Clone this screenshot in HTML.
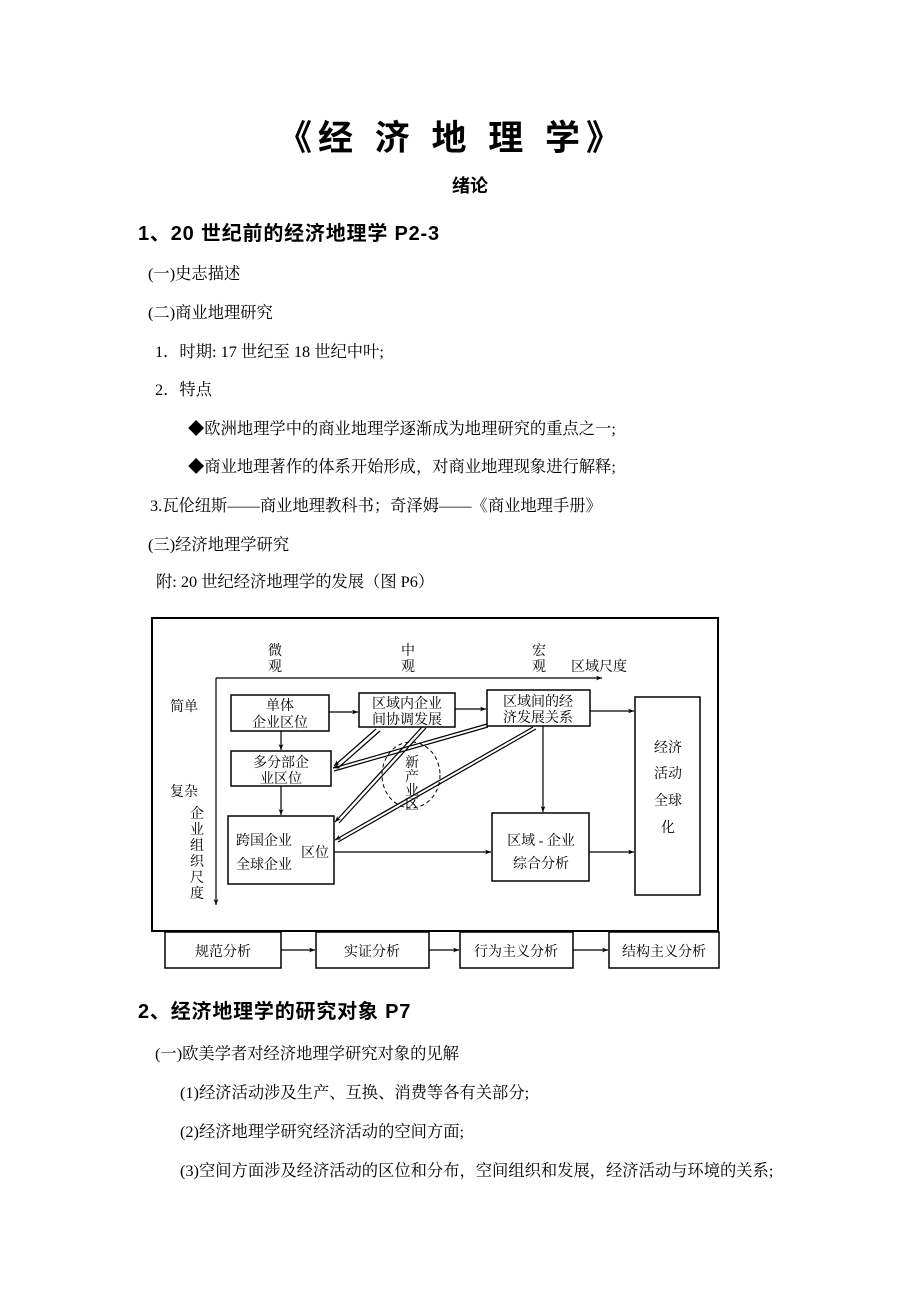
<!DOCTYPE html>
<html><head><meta charset="utf-8"><style>
html,body{margin:0;padding:0;background:#fff;}
svg{display:block}
.s{font-family:"Liberation Serif","Noto Serif CJK SC",serif;font-size:16.3px;fill:#000}
.h{font-family:"Liberation Sans","Noto Sans CJK SC",sans-serif;font-weight:bold;fill:#000}
.d{font-family:"Liberation Serif","Noto Serif CJK SC",serif;font-size:14px;fill:#000}
</style></head><body>
<svg width="920" height="1302" viewBox="0 0 920 1302" xmlns="http://www.w3.org/2000/svg">
<defs>
<marker id="a" viewBox="0 0 10 10" refX="10" refY="5" markerWidth="8" markerHeight="6" orient="auto" markerUnits="userSpaceOnUse"><path d="M0,1 L10,5 L0,9 L3,5 z" fill="#000"/></marker>
</defs>
<text class="h" x="452" y="150" font-size="35" text-anchor="middle" letter-spacing="6">《经 济 地 理 学》</text>
<text class="h" x="470" y="192" font-size="18" text-anchor="middle">绪论</text>
<text class="h" x="138" y="240" font-size="20" letter-spacing="0.8">1、20 世纪前的经济地理学 P2-3</text>
<text class="s" x="148" y="279">(一)史志描述</text>
<text class="s" x="148" y="318">(二)商业地理研究</text>
<text class="s" x="155" y="357">1．时期: 17 世纪至 18 世纪中叶;</text>
<text class="s" x="155" y="395">2．特点</text>
<text class="s" x="188" y="434">◆欧洲地理学中的商业地理学逐渐成为地理研究的重点之一;</text>
<text class="s" x="188" y="472">◆商业地理著作的体系开始形成，对商业地理现象进行解释;</text>
<text class="s" x="150" y="511">3.瓦伦纽斯——商业地理教科书；奇泽姆——《商业地理手册》</text>
<text class="s" x="148" y="550">(三)经济地理学研究</text>
<text class="s" x="156" y="587">附:  20 世纪经济地理学的发展（图 P6）</text>

<g stroke="#000" fill="none" stroke-width="1.5">
<rect x="152" y="618" width="566" height="313" stroke-width="2"/>
<line x1="216" y1="678" x2="602" y2="678" marker-end="url(#a)" stroke-width="1.2"/>
<line x1="216" y1="678" x2="216" y2="905" marker-end="url(#a)" stroke-width="1.2"/>
<rect x="231" y="695" width="98" height="36"/>
<rect x="359" y="693" width="96" height="34"/>
<rect x="487" y="690" width="103" height="36"/>
<rect x="635" y="697" width="65" height="198"/>
<rect x="231" y="751" width="100" height="35"/>
<rect x="228" y="816" width="106" height="68"/>
<rect x="492" y="813" width="97" height="68"/>
<rect x="165" y="932" width="116" height="36"/>
<rect x="316" y="932" width="113" height="36"/>
<rect x="460" y="932" width="113" height="36"/>
<rect x="609" y="932" width="110" height="36"/>
<g stroke-width="1.2">
<line x1="329" y1="712" x2="358" y2="712" marker-end="url(#a)"/>
<line x1="455" y1="709" x2="486" y2="709" marker-end="url(#a)"/>
<line x1="590" y1="711" x2="634" y2="711" marker-end="url(#a)"/>
<line x1="281" y1="731" x2="281" y2="750" marker-end="url(#a)"/>
<line x1="281" y1="786" x2="281" y2="815" marker-end="url(#a)"/>
<line x1="543" y1="726" x2="543" y2="812" marker-end="url(#a)"/>
<line x1="334" y1="852" x2="491" y2="852" marker-end="url(#a)"/>
<line x1="589" y1="852" x2="634" y2="852" marker-end="url(#a)"/>
<line x1="281" y1="950" x2="315" y2="950" marker-end="url(#a)"/>
<line x1="429" y1="950" x2="459" y2="950" marker-end="url(#a)"/>
<line x1="573" y1="950" x2="608" y2="950" marker-end="url(#a)"/>
<line x1="376" y1="729" x2="334" y2="766" marker-end="url(#a)"/>
<line x1="380" y1="731" x2="338" y2="768"/>
<line x1="487" y1="724" x2="333" y2="768" marker-end="url(#a)"/>
<line x1="488" y1="727" x2="334" y2="771"/>
<line x1="422" y1="727" x2="335" y2="822" marker-end="url(#a)"/>
<line x1="426" y1="728" x2="339" y2="823"/>
<line x1="533" y1="727" x2="335" y2="840" marker-end="url(#a)"/>
<line x1="536" y1="729" x2="338" y2="842"/>
</g>
<ellipse cx="411" cy="775" rx="29" ry="33" stroke-dasharray="4,3" stroke-width="1"/>
</g>
<g class="d">
<text x="268" y="655">微</text><text x="268" y="671">观</text>
<text x="401" y="655">中</text><text x="401" y="671">观</text>
<text x="532" y="655">宏</text><text x="532" y="671">观</text>
<text x="571" y="671">区域尺度</text>
<text x="170" y="711">简单</text>
<text x="170" y="796">复杂</text>
<text x="190" y="818">企</text><text x="190" y="834">业</text><text x="190" y="850">组</text><text x="190" y="866">织</text><text x="190" y="882">尺</text><text x="190" y="898">度</text>
<text x="280" y="710" text-anchor="middle">单体</text>
<text x="280" y="727" text-anchor="middle">企业区位</text>
<text x="407" y="708" text-anchor="middle">区域内企业</text>
<text x="407" y="724" text-anchor="middle">间协调发展</text>
<text x="538" y="706" text-anchor="middle">区域间的经</text>
<text x="538" y="722" text-anchor="middle">济发展关系</text>
<text x="281" y="767" text-anchor="middle">多分部企</text>
<text x="281" y="783" text-anchor="middle">业区位</text>
<text x="236" y="845">跨国企业</text>
<text x="236" y="869">全球企业</text>
<text x="301" y="857">区位</text>
<text x="541" y="845" text-anchor="middle">区域 - 企业</text>
<text x="541" y="868" text-anchor="middle">综合分析</text>
<text x="668" y="752" text-anchor="middle">经济</text>
<text x="668" y="778" text-anchor="middle">活动</text>
<text x="668" y="805" text-anchor="middle">全球</text>
<text x="668" y="832" text-anchor="middle">化</text>
<text x="405" y="767">新</text><text x="405" y="781">产</text><text x="405" y="795">业</text><text x="405" y="809">区</text>
<text x="223" y="956" text-anchor="middle">规范分析</text>
<text x="372" y="956" text-anchor="middle">实证分析</text>
<text x="516" y="956" text-anchor="middle">行为主义分析</text>
<text x="664" y="956" text-anchor="middle">结构主义分析</text>
</g>

<text class="h" x="138" y="1018" font-size="20" letter-spacing="0.8">2、经济地理学的研究对象 P7</text>
<text class="s" x="155" y="1059">(一)欧美学者对经济地理学研究对象的见解</text>
<text class="s" x="180" y="1098">(1)经济活动涉及生产、互换、消费等各有关部分;</text>
<text class="s" x="180" y="1137">(2)经济地理学研究经济活动的空间方面;</text>
<text class="s" x="180" y="1176">(3)空间方面涉及经济活动的区位和分布，空间组织和发展，经济活动与环境的关系;</text>
</svg>
</body></html>
